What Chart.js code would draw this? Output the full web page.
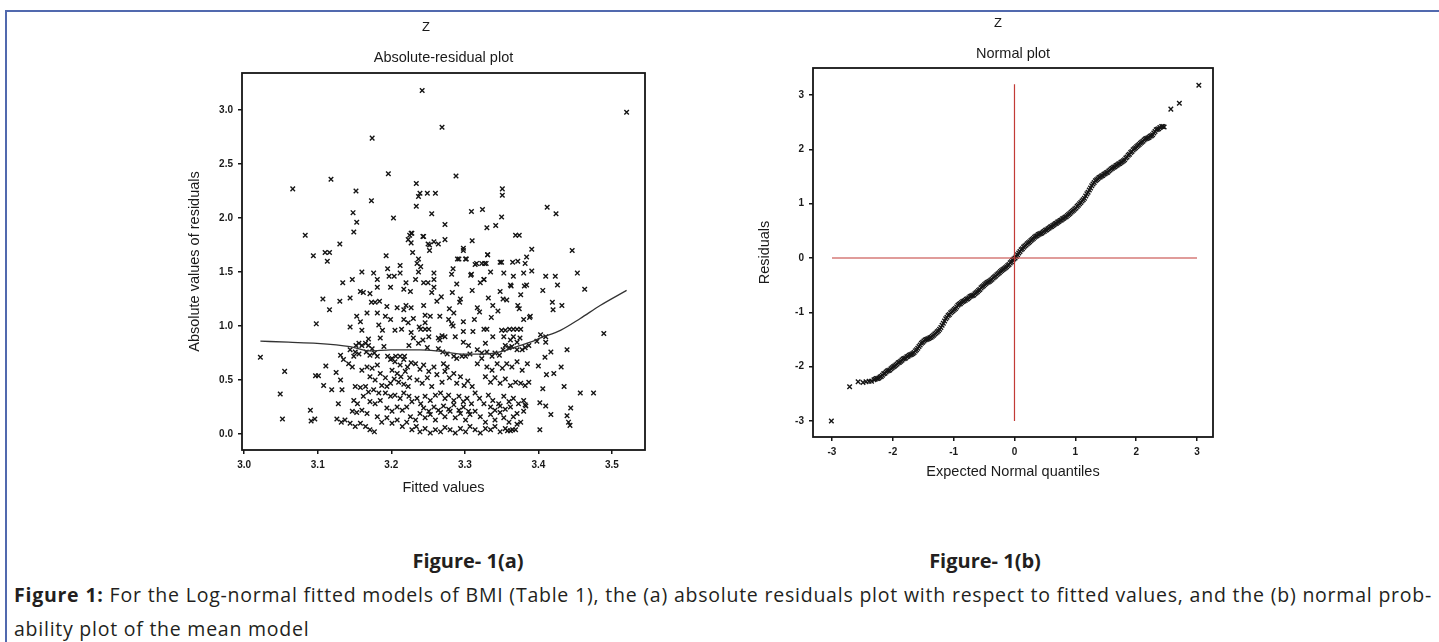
<!DOCTYPE html>
<html>
<head>
<meta charset="utf-8">
<script src="https://cdn.jsdelivr.net/npm/chart.js@4.4.0/dist/chart.umd.min.js"></script>
<style>
  body { margin: 0; background: #fff; width: 1439px; height: 642px; overflow: hidden; position: relative; }
  .rule { position: absolute; background: #5169ae; }
  canvas { position: absolute; }
  #absChart { left: 178px; top: 12px; }
  #qqChart { left: 748px; top: 12px; }
  .figlabel { position: absolute; width: 200px; text-align: center; font: bold 20px "Open Sans", sans-serif; line-height: 24px; color: #231f20; }
  .cap { position: absolute; left: 14px; width: 1418px; font-family: "Open Sans", sans-serif; font-size: 19.5px; line-height: 24px; color: #231f20; }
  #cap1 { text-align: justify; text-align-last: justify; }
</style>
</head>
<body>
<div class="rule" style="left:5px;top:10px;right:0;height:2px"></div>
<div class="rule" style="left:5px;top:10px;bottom:0;width:2px"></div>

<canvas id="absChart" width="496" height="489"></canvas>
<canvas id="qqChart" width="500" height="473"></canvas>

<div class="figlabel" style="left:368px;top:549px">Figure- 1(a)</div>
<div class="figlabel" style="left:885px;top:549px">Figure- 1(b)</div>
<div class="cap" id="cap1" style="top:583px"><b>Figure 1:</b> For the Log-normal fitted models of BMI (Table 1), the (a) absolute residuals plot with respect to fitted values, and the (b) normal prob-</div>
<div class="cap" id="cap2" style="top:617px">ability plot of the mean model</div>

<script>
// ---- (a) absolute residuals vs fitted values ----
const xTicksA = [3.0, 3.1, 3.2, 3.3, 3.4, 3.5];
const yTicksA = [0.0, 0.5, 1.0, 1.5, 2.0, 2.5, 3.0];

// [fitted value, |residual|]
const absPoints = [
  [3.242,3.18],[3.174,2.74],[3.269,2.84],[3.520,2.98],[3.196,2.41],[3.066,2.27],[3.118,2.36],[3.152,2.25],
  [3.173,2.16],[3.234,2.32],[3.239,2.23],[3.249,2.23],[3.260,2.23],[3.237,2.20],[3.288,2.39],[3.234,2.11],
  [3.148,2.05],[3.153,1.96],[3.203,2.00],[3.255,2.04],[3.273,1.94],[3.309,2.06],[3.324,2.08],[3.330,1.91],
  [3.342,1.93],[3.350,2.01],[3.351,2.27],[3.351,2.21],[3.412,2.10],[3.424,2.04],
  [3.083,1.84],[3.130,1.76],[3.149,1.87],[3.225,1.84],[3.227,1.86],[3.223,1.80],[3.243,1.83],[3.250,1.76],
  [3.258,1.78],[3.273,1.80],[3.310,1.79],[3.369,1.84],[3.374,1.84],[3.298,1.72],[3.391,1.71],[3.446,1.70],
  [3.264,1.76],[3.229,1.68],[3.252,1.70],[3.252,1.75],[3.301,1.62],
  [3.384,1.64],[3.348,1.59],[3.365,1.59],[3.331,1.66],[3.298,1.70],[3.302,1.62],[3.290,1.62],[3.316,1.58],
  [3.323,1.58],[3.329,1.58],[3.453,1.49],[3.410,1.46],[3.423,1.46],[3.380,1.49],[3.391,1.51],[3.308,1.47],
  [3.326,1.43],[3.362,1.38],[3.384,1.38],[3.406,1.33],[3.426,1.38],[3.463,1.34],[3.419,1.22],[3.420,1.15],
  [3.432,1.19],[3.489,0.93],[3.403,0.92],[3.410,0.90],[3.398,0.86],[3.439,0.78],[3.417,0.76],[3.409,0.71],
  [3.431,0.62],[3.400,0.63],[3.411,0.55],[3.421,0.56],[3.435,0.44],[3.406,0.42],[3.457,0.38],[3.475,0.38],
  [3.383,0.26],[3.402,0.29],[3.410,0.26],[3.444,0.24],[3.417,0.18],[3.439,0.17],[3.441,0.11],[3.443,0.08],
  [3.371,0.19],[3.402,0.04],[3.358,0.03],[3.365,0.04],
  [3.022,0.71],[3.055,0.58],[3.049,0.37],[3.052,0.14],[3.090,0.22],[3.091,0.12],[3.096,0.14],[3.094,1.65],
  [3.110,1.68],[3.116,1.68],[3.113,1.60],[3.098,1.02],[3.101,0.54],[3.097,0.54],[3.107,1.25],[3.116,1.15],
  [3.111,0.63],[3.108,0.45],[3.119,0.41],[3.125,0.57],[3.130,1.23],[3.134,1.40],[3.144,1.26],[3.147,1.43],
  [3.160,1.50],[3.176,1.49],[3.128,0.28],[3.131,0.50],[3.133,0.41],[3.131,0.73],[3.135,0.69],[3.158,1.04],
  [3.160,0.96],[3.158,1.32],[3.162,1.31],[3.171,1.30],[3.181,1.36],[3.173,1.22],[3.178,1.22],[3.184,1.23],
  [3.183,1.01],[3.193,1.65],[3.195,1.53],[3.197,1.46],[3.204,1.46],[3.212,1.56],[3.217,1.34],[3.226,1.32],
  [3.208,1.17],[3.217,1.15],[3.220,1.19],[3.227,1.17],[3.227,1.77],[3.228,1.86],[3.244,1.83],[3.235,1.58],
  [3.240,1.55],[3.237,1.62],[3.237,1.50],[3.244,1.40],[3.250,1.40],[3.258,1.43],[3.258,1.49],[3.255,1.31],
  [3.258,1.36],[3.266,1.09],[3.262,1.23],[3.283,1.31],[3.282,1.48],[3.284,1.53],[3.292,1.62],[3.309,1.48],
  [3.294,1.25],[3.293,1.22],[3.298,1.04],[3.298,0.95],[3.326,1.43],[3.314,1.57],[3.327,1.58],[3.331,1.66],
  [3.317,1.17],[3.320,1.13],[3.313,1.06],[3.326,0.97],[3.336,1.08],[3.338,1.19],[3.345,1.14],[3.352,1.25],
  [3.357,1.24],[3.363,1.37],[3.372,1.60],[3.350,1.59],[3.372,1.19],[3.374,1.16],[3.388,1.08],[3.381,1.37],
  [3.199,1.06],[3.188,0.96],[3.205,0.96],[3.214,0.97],[3.223,1.03],[3.238,0.99],[3.240,0.97],[3.246,0.97],
  [3.251,0.97],[3.253,1.09],[3.246,1.03],[3.227,0.94],[3.264,0.89],[3.251,0.90],[3.278,1.06],[3.282,1.02],
  [3.284,1.00],[3.311,0.95],[3.330,0.97],[3.350,0.96],[3.355,0.96],[3.361,0.97],[3.366,0.97],[3.371,0.97],
  [3.376,0.97],[3.375,0.89],[3.338,0.90],
  [3.152,0.82],[3.156,0.84],[3.160,0.82],[3.165,0.84],[3.169,0.82],[3.174,0.79],[3.144,0.78],[3.151,0.76],
  [3.149,0.72],[3.156,0.74],[3.166,0.76],[3.171,0.73],[3.177,0.75],[3.181,0.72],[3.169,0.88],[3.190,0.81],
  [3.185,0.89],[3.195,0.72],[3.201,0.70],[3.206,0.72],[3.212,0.72],[3.218,0.72],[3.224,0.82],[3.230,0.89],
  [3.237,0.84],[3.243,0.87],[3.249,0.80],[3.264,0.79],[3.270,0.76],[3.276,0.74],[3.285,0.72],[3.289,0.70],
  [3.296,0.72],[3.301,0.72],[3.307,0.74],[3.266,0.87],[3.269,0.91],[3.273,0.90],[3.271,0.65],[3.276,0.62],
  [3.317,0.78],[3.323,0.75],[3.330,0.76],[3.337,0.72],[3.341,0.75],[3.347,0.73],[3.352,0.78],[3.355,0.82],
  [3.360,0.80],[3.364,0.81],[3.371,0.78],[3.378,0.78],[3.382,0.80],[3.387,0.82],[3.362,0.87],[3.366,0.90],
  [3.353,0.90],[3.371,0.85],[3.298,0.85],[3.305,0.82],[3.287,0.90],[3.328,0.84],
  [3.142,0.65],[3.147,0.62],[3.160,0.59],[3.167,0.62],[3.174,0.61],[3.181,0.64],[3.171,0.53],[3.178,0.50],
  [3.185,0.56],[3.192,0.52],[3.187,0.45],[3.194,0.44],[3.199,0.47],[3.151,0.44],[3.158,0.43],[3.165,0.44],
  [3.199,0.69],[3.205,0.67],[3.212,0.64],[3.217,0.69],[3.222,0.62],[3.227,0.66],[3.201,0.59],[3.208,0.56],
  [3.213,0.53],[3.219,0.58],[3.225,0.52],[3.204,0.51],[3.210,0.48],[3.217,0.46],[3.223,0.44],[3.233,0.65],
  [3.239,0.60],[3.244,0.64],[3.251,0.58],[3.258,0.62],[3.235,0.50],[3.242,0.47],[3.249,0.52],[3.255,0.44],
  [3.262,0.55],[3.269,0.48],[3.273,0.58],[3.279,0.52],[3.285,0.56],[3.289,0.47],[3.294,0.53],[3.299,0.45],
  [3.304,0.49],[3.310,0.44],[3.317,0.65],[3.323,0.70],[3.330,0.62],[3.337,0.59],[3.344,0.65],[3.351,0.61],
  [3.328,0.53],[3.335,0.48],[3.341,0.52],[3.348,0.47],[3.355,0.51],[3.362,0.45],[3.369,0.48],[3.376,0.47],
  [3.382,0.45],[3.387,0.48],[3.357,0.65],[3.364,0.62],[3.371,0.67],[3.378,0.59],[3.385,0.65],
  [3.169,0.39],[3.176,0.41],[3.183,0.38],[3.149,0.31],[3.154,0.28],[3.162,0.35],[3.171,0.30],[3.178,0.28],
  [3.185,0.31],[3.147,0.21],[3.153,0.20],[3.160,0.22],[3.167,0.19],[3.192,0.38],[3.199,0.35],[3.205,0.36],
  [3.212,0.33],[3.217,0.38],[3.224,0.35],[3.228,0.30],[3.235,0.33],[3.240,0.28],[3.246,0.35],[3.253,0.31],
  [3.260,0.36],[3.267,0.38],[3.273,0.33],[3.278,0.36],[3.285,0.31],[3.292,0.35],[3.298,0.30],[3.303,0.33],
  [3.309,0.28],[3.314,0.38],[3.320,0.33],[3.326,0.28],[3.332,0.36],[3.338,0.31],[3.346,0.28],[3.353,0.35],
  [3.360,0.30],[3.366,0.33],[3.373,0.28],[3.380,0.31],[3.194,0.24],[3.201,0.21],[3.208,0.25],[3.215,0.22],
  [3.221,0.25],[3.244,0.24],[3.251,0.21],[3.258,0.25],[3.264,0.22],[3.271,0.26],[3.278,0.23],[3.285,0.27],
  [3.292,0.22],[3.298,0.25],[3.305,0.21],[3.335,0.25],[3.341,0.22],[3.348,0.26],[3.355,0.23],[3.362,0.25],
  [3.382,0.27],[3.380,0.21],
  [3.126,0.14],[3.132,0.11],[3.137,0.13],[3.144,0.10],[3.151,0.07],[3.158,0.10],[3.165,0.07],[3.171,0.04],
  [3.177,0.02],[3.181,0.16],[3.187,0.11],[3.194,0.15],[3.201,0.10],[3.208,0.13],[3.215,0.07],[3.221,0.11],
  [3.228,0.04],[3.234,0.07],[3.239,0.02],[3.246,0.05],[3.253,0.01],[3.260,0.04],[3.267,0.02],[3.273,0.06],
  [3.280,0.04],[3.287,0.01],[3.294,0.05],[3.301,0.02],[3.307,0.07],[3.314,0.04],[3.321,0.01],[3.328,0.05],
  [3.335,0.04],[3.341,0.07],[3.348,0.02],[3.355,0.05],[3.362,0.03],[3.369,0.04],[3.226,0.16],[3.233,0.13],
  [3.239,0.19],[3.246,0.15],[3.253,0.18],[3.260,0.13],[3.267,0.20],[3.273,0.16],[3.280,0.21],[3.287,0.15],
  [3.294,0.19],[3.301,0.13],[3.307,0.18],[3.314,0.21],[3.321,0.16],[3.328,0.11],[3.335,0.18],[3.341,0.13],
  [3.348,0.20],[3.353,0.15],[3.360,0.11],[3.366,0.16],[3.371,0.09],[3.376,0.11],
  [3.194,1.18],[3.217,1.06],[3.230,1.07],[3.246,1.10],[3.244,1.19],[3.279,1.16],[3.285,1.12],[3.268,1.27],
  [3.289,1.39],[3.310,1.33],[3.321,1.40],[3.332,1.26],[3.348,1.32],[3.353,1.49],[3.366,1.46],[3.335,1.50],
  [3.382,1.58],[3.376,1.29],[3.380,1.06],[3.212,1.49],[3.181,1.43],[3.199,1.36],[3.220,1.40],[3.233,1.43],
  [3.181,1.12],[3.192,1.09],[3.167,1.12],[3.153,1.09],[3.144,0.99],[3.389,1.09],[3.410,0.85]
];

// smoothed trend through the points
const lowessX = [3.022, 3.060, 3.099, 3.144, 3.171, 3.199, 3.239, 3.262, 3.298, 3.326, 3.353, 3.371, 3.389, 3.403, 3.430, 3.457, 3.484, 3.520];
const lowessY = [0.86, 0.85, 0.84, 0.81, 0.77, 0.78, 0.78, 0.77, 0.74, 0.74, 0.77, 0.81, 0.85, 0.89, 0.96, 1.07, 1.19, 1.33];

// ---- (b) normal probability plot ----
const xTicksB = [-3, -2, -1, 0, 1, 2, 3];
const yTicksB = [-3, -2, -1, 0, 1, 2, 3];

// [expected normal quantile, residual]
const qqPoints = [
  [-3.01,-3.00],[-2.71,-2.37],[-2.57,-2.28],[-2.49,-2.29],[-2.44,-2.28],[-2.39,-2.27],[-2.35,-2.27],[-2.31,-2.24],
  [-2.27,-2.22],[-2.23,-2.21],[-2.19,-2.18],[-2.15,-2.13],[-2.11,-2.10],[-2.07,-2.07],[-2.03,-2.04],[-1.99,-2.00],
  [-1.95,-1.97],[-1.91,-1.93],[-1.87,-1.90],[-1.83,-1.86],[-1.79,-1.84],[-1.75,-1.81],[-1.71,-1.78],[-1.67,-1.76],
  [-1.63,-1.71],[-1.59,-1.66],[-1.55,-1.60],[-1.51,-1.55],[-1.47,-1.51],[-1.43,-1.49],[-1.39,-1.47],[-1.35,-1.44],
  [-1.31,-1.40],[-1.27,-1.36],[-1.23,-1.31],[-1.19,-1.24],[-1.15,-1.16],[-1.11,-1.09],[-1.07,-1.04],[-1.03,-0.99],
  [-0.99,-0.95],[-0.95,-0.90],[-0.91,-0.85],[-0.87,-0.82],[-0.83,-0.79],[-0.79,-0.76],[-0.75,-0.73],[-0.71,-0.70],
  [-0.67,-0.68],[-0.63,-0.64],[-0.59,-0.60],[-0.55,-0.55],[-0.51,-0.51],[-0.47,-0.47],[-0.43,-0.44],[-0.39,-0.41],
  [-0.35,-0.37],[-0.31,-0.33],[-0.27,-0.29],[-0.23,-0.25],[-0.19,-0.21],[-0.15,-0.18],[-0.11,-0.14],[-0.07,-0.09],
  [-0.03,-0.04],[0.01,0.00],[0.05,0.06],[0.09,0.12],[0.13,0.17],[0.17,0.22],[0.21,0.26],[0.25,0.30],
  [0.29,0.34],[0.33,0.38],[0.37,0.41],[0.41,0.44],[0.45,0.46],[0.49,0.49],[0.53,0.52],[0.57,0.55],
  [0.61,0.58],[0.65,0.61],[0.69,0.64],[0.73,0.67],[0.77,0.70],[0.81,0.73],[0.85,0.76],[0.89,0.80],
  [0.93,0.84],[0.97,0.88],[1.01,0.92],[1.05,0.97],[1.09,1.02],[1.13,1.07],[1.17,1.14],[1.21,1.21],
  [1.25,1.29],[1.29,1.36],[1.33,1.42],[1.37,1.46],[1.41,1.49],[1.45,1.52],[1.49,1.55],[1.53,1.58],
  [1.57,1.62],[1.61,1.65],[1.65,1.68],[1.69,1.71],[1.73,1.74],[1.77,1.77],[1.81,1.81],[1.85,1.86],
  [1.89,1.91],[1.93,1.96],[1.97,2.01],[2.01,2.05],[2.05,2.09],[2.09,2.13],[2.13,2.17],[2.17,2.20],
  [2.21,2.22],[2.25,2.25],[2.29,2.30],[2.33,2.36],[2.37,2.38],[2.42,2.42],[2.46,2.41],[2.57,2.74],
  [2.71,2.85],[3.03,3.18],
  [-2.29,-2.23],[-2.25,-2.22],[-2.21,-2.19],[-2.17,-2.16],[-2.13,-2.12],[-2.09,-2.08],[-2.05,-2.06],[-2.01,-2.02],
  [-1.97,-1.99],[-1.93,-1.95],[-1.89,-1.92],[-1.85,-1.88],[-1.81,-1.85],[-1.77,-1.82],[-1.73,-1.79],[-1.69,-1.77],
  [-1.65,-1.74],[-1.61,-1.69],[-1.57,-1.63],[-1.53,-1.57],[-1.49,-1.53],[-1.45,-1.50],[-1.41,-1.48],[-1.37,-1.46],
  [-1.33,-1.42],[-1.29,-1.38],[-1.25,-1.34],[-1.21,-1.28],[-1.17,-1.20],[-1.13,-1.12],[-1.09,-1.06],[-1.05,-1.01],
  [-1.01,-0.97],[-0.97,-0.93],[-0.93,-0.87],[-0.89,-0.84],[-0.85,-0.80],[-0.81,-0.78],[-0.77,-0.75],[-0.73,-0.71],
  [-0.69,-0.69],[-0.65,-0.66],[-0.61,-0.62],[-0.57,-0.58],[-0.53,-0.53],[-0.49,-0.49],[-0.45,-0.45],[-0.41,-0.43],
  [-0.37,-0.39],[-0.33,-0.35],[-0.29,-0.31],[-0.25,-0.27],[-0.21,-0.23],[-0.17,-0.20],[-0.13,-0.16],[-0.09,-0.12],
  [-0.05,-0.07],[-0.01,-0.02],[0.03,0.03],[0.07,0.09],[0.11,0.15],[0.15,0.20],[0.19,0.24],[0.23,0.28],
  [0.27,0.32],[0.31,0.36],[0.35,0.40],[0.39,0.43],[0.43,0.45],[0.47,0.48],[0.51,0.51],[0.55,0.54],
  [0.59,0.57],[0.63,0.60],[0.67,0.63],[0.71,0.66],[0.75,0.69],[0.79,0.72],[0.83,0.75],[0.87,0.78],
  [0.91,0.82],[0.95,0.86],[0.99,0.90],[1.03,0.95],[1.07,1.00],[1.11,1.05],[1.15,1.10],[1.19,1.18],
  [1.23,1.25],[1.27,1.33],[1.31,1.39],[1.35,1.44],[1.39,1.48],[1.43,1.51],[1.47,1.54],[1.51,1.57],
  [1.55,1.60],[1.59,1.64],[1.63,1.67],[1.67,1.70],[1.71,1.73],[1.75,1.76],[1.79,1.79],[1.83,1.84],
  [1.87,1.89],[1.91,1.94],[1.95,1.99],[1.99,2.03],[2.03,2.07],[2.07,2.11],[2.11,2.15],[2.15,2.19],
  [2.19,2.21],[2.23,2.24],[2.27,2.27],[2.31,2.33],[2.35,2.37],[2.39,2.40],[2.44,2.42]
];

// red reference lines
const vLineX = [0, 0];
const vLineY = [-3.0, 3.2];
const hLineX = [-3.0, 3.0];
const hLineY = [0, 0];

const AXIS_FONT = 'Liberation Sans, Arial, sans-serif';
const INK = '#151515';

const framePlugin = {
  id: 'frame',
  afterDatasetsDraw(chart) {
    const { ctx, chartArea: a } = chart;
    ctx.save();
    ctx.strokeStyle = INK;
    ctx.lineWidth = 1.8;
    ctx.strokeRect(a.left, a.top, a.right - a.left, a.bottom - a.top);
    ctx.restore();
  }
};

function makeAxis(pos, min, max, tickVals, fmt, title, size) {
  return {
    type: 'linear',
    position: pos,
    min: min,
    max: max,
    afterBuildTicks: s => { s.ticks = tickVals.map(v => ({ value: v })); },
    afterFit: s => { if (pos === 'left') s.width = size; else s.height = size; },
    border: { display: false },
    grid: { drawOnChartArea: false, drawTicks: true, tickLength: 4, color: INK, lineWidth: 1.5 },
    ticks: {
      autoSkip: false, maxRotation: 0, padding: 5, color: '#1a1a1a',
      font: { family: AXIS_FONT, size: 10, weight: 'bold' },
      callback: fmt
    },
    title: {
      display: true, text: title, color: '#1a1a1a',
      font: { family: AXIS_FONT, size: 14.5 },
      padding: pos === 'left' ? { top: 8, bottom: 0 } : { top: 0, bottom: 4 }
    }
  };
}

// empty right-hand strip so the top title centres on the whole figure
function spacerAxis(width) {
  return {
    type: 'linear', position: 'right', display: true,
    afterFit: s => { s.width = width; },
    grid: { display: false }, border: { display: false }, ticks: { display: false }
  };
}

function toXY(xs, ys) {
  return xs.map((x, i) => ({ x: x, y: ys[i] }));
}

function titles(main, sub, padTop, padMid, padBottom) {
  return {
    legend: { display: false },
    tooltip: { enabled: false },
    title: {
      display: true, text: main, fullSize: true, color: '#1a1a1a',
      font: { family: AXIS_FONT, size: 13, weight: 'normal' },
      padding: { top: padTop, bottom: padMid }
    },
    subtitle: {
      display: true, text: sub, fullSize: false, color: '#1a1a1a',
      font: { family: AXIS_FONT, size: 14.5 },
      padding: { top: 0, bottom: padBottom }
    }
  };
}

const crossStyle = { pointStyle: 'crossRot', pointRadius: 3.2, borderColor: INK, borderWidth: 1.4 };

new Chart(document.getElementById('absChart'), {
  type: 'scatter',
  data: {
    datasets: [
      {
        data: toXY(lowessX, lowessY),
        showLine: true,
        pointRadius: 0,
        borderColor: '#333',
        borderWidth: 1.3,
        cubicInterpolationMode: 'monotone'
      },
      Object.assign({ data: absPoints.map(p => ({ x: p[0], y: p[1] })) }, crossStyle)
    ]
  },
  options: {
    responsive: false,
    animation: false,
    devicePixelRatio: 1,
    layout: { padding: 0 },
    scales: {
      x: makeAxis('bottom', 2.997, 3.545, xTicksA, v => v.toFixed(1), 'Fitted values', 51),
      y: makeAxis('left', -0.148, 3.343, yTicksA, v => v.toFixed(1), 'Absolute values of residuals', 64),
      pad: spacerAxis(29)
    },
    plugins: titles('Z', 'Absolute-residual plot', 7.2, 14.5, 6.3)
  },
  plugins: [framePlugin]
});

new Chart(document.getElementById('qqChart'), {
  type: 'scatter',
  data: {
    datasets: [
      { data: toXY(vLineX, vLineY), showLine: true, pointRadius: 0, borderColor: '#c23b36', borderWidth: 1.2 },
      { data: toXY(hLineX, hLineY), showLine: true, pointRadius: 0, borderColor: '#c23b36', borderWidth: 1.2 },
      Object.assign({ data: qqPoints.map(p => ({ x: p[0], y: p[1] })) }, crossStyle)
    ]
  },
  options: {
    responsive: false,
    animation: false,
    devicePixelRatio: 1,
    layout: { padding: 0 },
    scales: {
      x: makeAxis('bottom', -3.312, 3.263, xTicksB, v => String(v), 'Expected Normal quantiles', 48),
      y: makeAxis('left', -3.295, 3.497, yTicksB, v => String(v), 'Residuals', 65),
      pad: spacerAxis(35)
    },
    plugins: titles('Z', 'Normal plot', 3.2, 14.5, 5.3)
  },
  plugins: [framePlugin]
});

// stretch the caption with a little letter spacing so line one fills the justified width
const cap1 = document.getElementById('cap1');
const probe = document.createElement('span');
probe.style.cssText = 'position:absolute;visibility:hidden;white-space:nowrap;font-family:"Open Sans",sans-serif;font-size:19.5px';
probe.innerHTML = cap1.innerHTML;
document.body.appendChild(probe);
const spare = 1414 - probe.offsetWidth;
const nChars = probe.textContent.length;
probe.remove();
if (spare > 0) {
  document.querySelectorAll('.cap').forEach(el => { el.style.letterSpacing = (spare / nChars) + 'px'; });
} else {
  document.querySelectorAll('.cap').forEach(el => { el.style.fontSize = (19.5 * 1414 / (1414 - spare)) + 'px'; });
}
</script>
</body>
</html>
